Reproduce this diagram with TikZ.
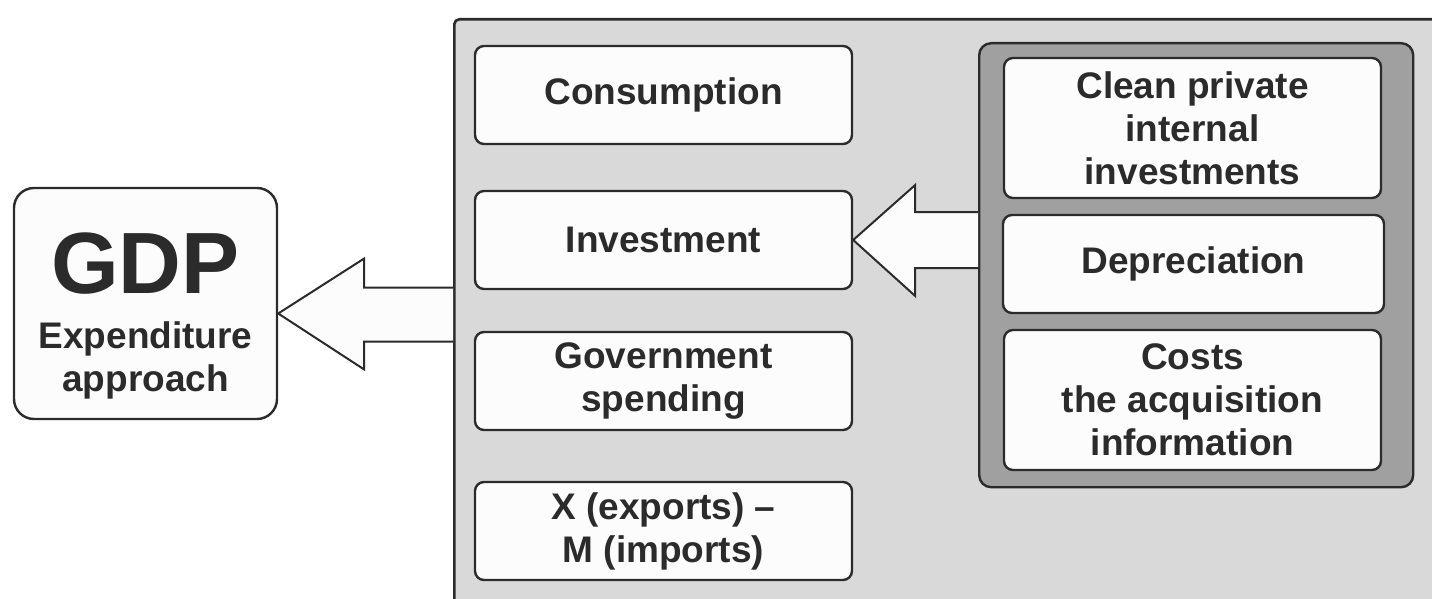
\documentclass[tikz,border=0pt]{standalone}
\usepackage{fontspec}
\setmainfont{Liberation Sans}
\usetikzlibrary{calc}
\definecolor{ink}{HTML}{2B2B2B}
\definecolor{panelgray}{HTML}{D9D9D9}
\definecolor{darkgray}{HTML}{A0A0A0}
\definecolor{boxwhite}{HTML}{FCFCFC}
\tikzset{
  txt/.style={font=\fontsize{37}{43}\selectfont\bfseries, text=ink, align=center},
  itembox/.style={txt, draw=ink, line width=2.4pt, fill=boxwhite, rounded corners=9pt,
     minimum width=377pt, inner sep=0pt},
  blockarrow/.style={draw=ink, line width=2pt, fill=boxwhite, line join=miter},
}
\begin{document}
\begin{tikzpicture}[x=1pt,y=-1pt]
\useasboundingbox (0,0) rectangle (1432,599);
\fill[white] (0,0) rectangle (1432,599);
% outer panel
\node[draw=ink, line width=2.6pt, fill=panelgray, rounded corners=5pt, anchor=north west,
  minimum width=1100pt, minimum height=700pt, inner sep=0pt] (panel) at (453,18) {};
% dark panel
\node[draw=ink, line width=2.4pt, fill=darkgray, rounded corners=12pt, anchor=north west,
  minimum width=434pt, minimum height=444pt, inner sep=0pt] (sub) at (978,42) {};
% left column boxes
\node[itembox, minimum height=98pt] (cons) at (663.5,95) {Consumption};
\node[itembox, minimum height=98pt] (inv) at (663.5,240) {Investment};
\node[itembox, minimum height=98pt] (gov) at (663.5,381) {Government\\spending};
\node[itembox, minimum height=98pt] (nx) at (663.5,531) {X (exports) --\\M (imports)};
% right column boxes
\node[itembox, minimum height=140pt] (clean) at (1192.5,128) {Clean private\\internal\\investments};
\node[itembox, minimum width=381pt, minimum height=98pt] (dep) at (1193.5,264) {Depreciation};
\node[itembox, minimum height=140pt] (costs) at (1192.5,400) {Costs\\the acquisition\\information};
% GDP box
\node[draw=ink, line width=2.4pt, fill=boxwhite, rounded corners=20pt,
  minimum width=263pt, minimum height=231pt, inner sep=0pt] (gdp) at (145.5,303.5) {};
\node[txt, inner sep=0pt] (gdptext) at ($(gdp.center)+(0,12)$)
  {{\fontsize{87}{87}\selectfont GDP}\\[12pt]Expenditure\\approach};
% big arrow into GDP
\coordinate (tip1) at ($(gdp.east)+(0,10)$);
\coordinate (a1) at (panel.west |- tip1);
\draw[blockarrow] ($(a1)+(0,-26)$) -- ($(tip1)+(86,-26)$) -- ($(tip1)+(86,-55)$)
  -- (tip1) -- ($(tip1)+(86,56)$) -- ($(tip1)+(86,28)$) -- ($(a1)+(0,28)$);
% arrow into Investment
\coordinate (a2) at (sub.west |- inv.east);
\draw[blockarrow] ($(a2)+(0,-28)$) -- ($(inv.east)+(62,-28)$) -- ($(inv.east)+(62,-55)$)
  -- (inv.east) -- ($(inv.east)+(62,56)$) -- ($(inv.east)+(62,28)$) -- ($(a2)+(0,28)$);
\end{tikzpicture}
\end{document}
